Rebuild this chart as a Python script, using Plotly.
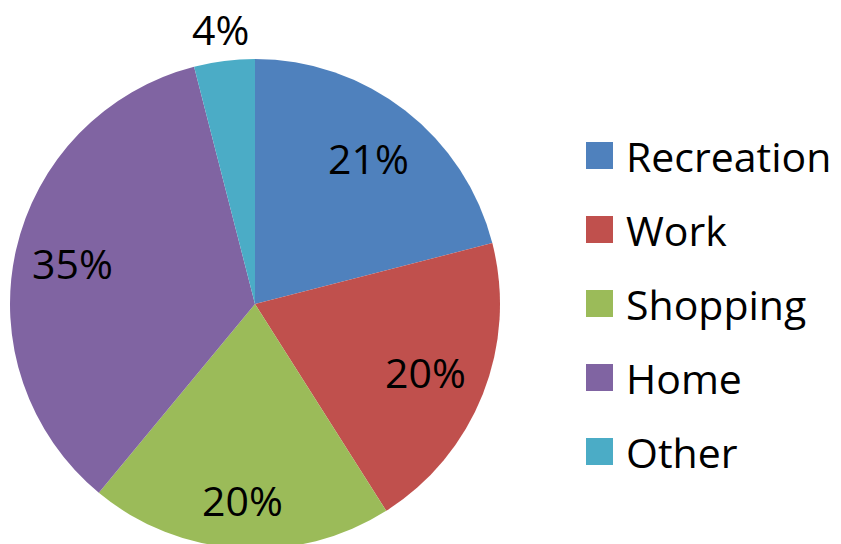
import math
import plotly.graph_objects as go

categories = ["Recreation", "Work", "Shopping", "Home", "Other"]
values = [21, 20, 20, 35, 4]
colors = ["#4F81BD", "#C0504D", "#9BBB59", "#8064A2", "#4BACC6"]
text_labels = ["21%", "20%", "20%", "35%", "4%"]

# label placement as fraction of the radius (styling, not data)
label_radius = [0.753, 0.75, 0.80, 0.762, 1.13]

W, H = 841, 544
FONT = "Open Sans"
FS = 41
OFF = 8  # page body margin: paper pixel = screen pixel - OFF

# pie geometry in paper pixels
R_px = 245
cx_px = 255 - OFF
cy_px = 304 - OFF
dom_y = [max(0, 1 - (cy_px + R_px) / H), min(1, 1 - (cy_px - R_px) / H)]
dom_x = [max(0, (cx_px - R_px) / W), min(1, (cx_px + R_px) / W)]

fig = go.Figure()
fig.add_trace(go.Pie(
    labels=categories,
    values=values,
    textinfo="none",
    sort=False,
    direction="clockwise",
    rotation=0,
    marker=dict(colors=colors, line=dict(width=0)),
    domain=dict(x=dom_x, y=dom_y),
    showlegend=False,
    hoverinfo="label+percent",
))

# data labels at each slice's mid-angle
total = sum(values)
cum = 0
for v, t, rf in zip(values, text_labels, label_radius):
    mid = (cum + v / 2) / total * 2 * math.pi
    cum += v
    xp = cx_px + rf * R_px * math.sin(mid)
    yp = cy_px - rf * R_px * math.cos(mid)
    fig.add_annotation(xref="paper", yref="paper", x=xp / W, y=1 - yp / H,
                       text=t, showarrow=False, xanchor="center", yanchor="middle",
                       font=dict(family=FONT, size=FS, color="black"))

# legend
row_y = [155.5, 229.5, 303.5, 377.5, 451.5]
sq = 27
x0 = 586
for name, col, yc in zip(categories, colors, row_y):
    yc_p = yc - OFF
    fig.add_shape(type="rect", xref="paper", yref="paper",
                  x0=(x0 - OFF) / W, x1=(x0 - OFF + sq) / W,
                  y0=1 - (yc_p + sq / 2) / H, y1=1 - (yc_p - sq / 2) / H,
                  fillcolor=col, line=dict(width=0))
    fig.add_annotation(xref="paper", yref="paper", x=(624 - OFF) / W, y=1 - yc_p / H,
                       text=name, showarrow=False, xanchor="left", yanchor="middle",
                       font=dict(family=FONT, size=FS, color="black"))

fig.update_layout(
    width=W, height=H,
    margin=dict(l=0, r=0, t=0, b=0),
    paper_bgcolor="white",
    plot_bgcolor="white",
)

fig.write_html("out.html")
